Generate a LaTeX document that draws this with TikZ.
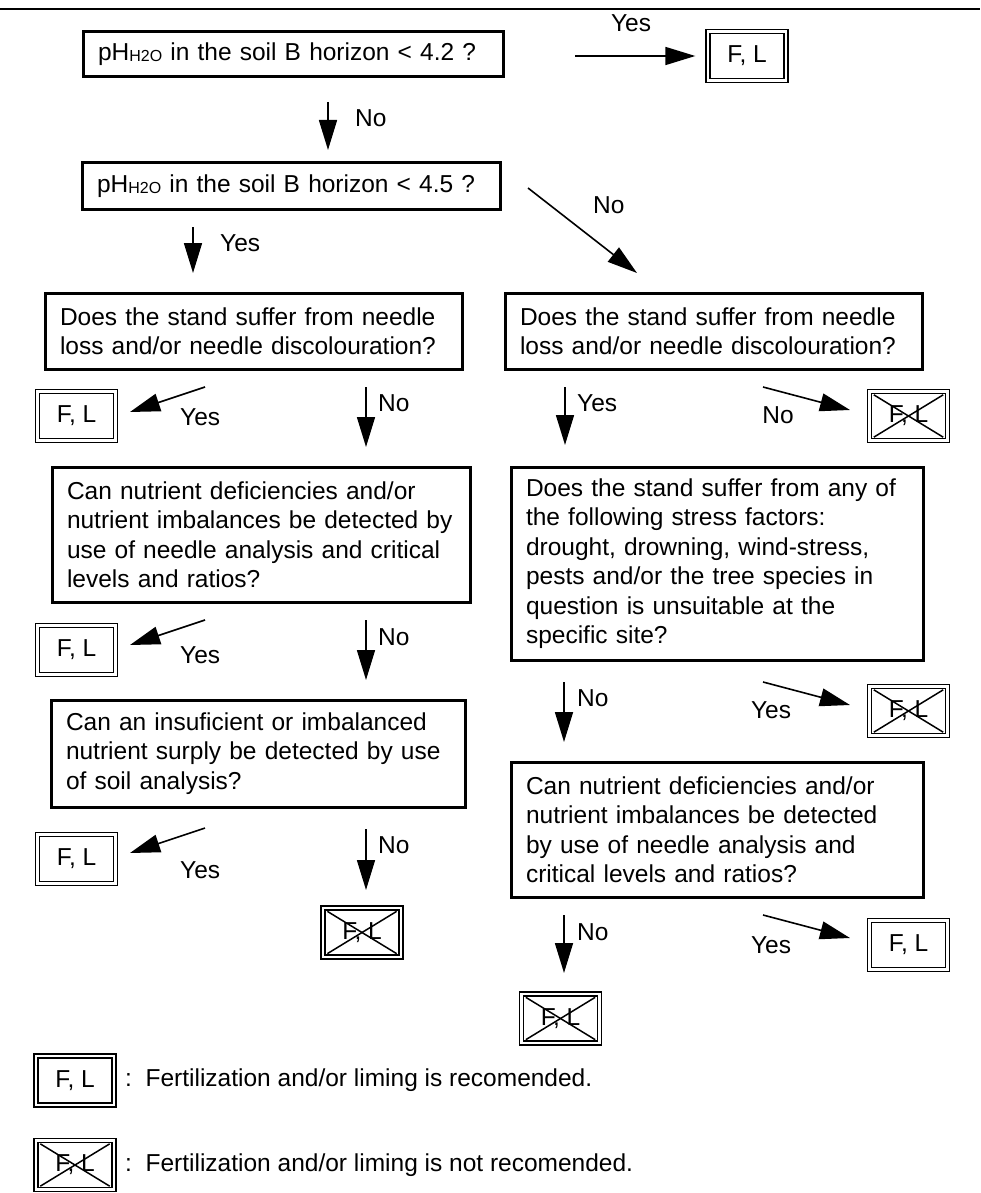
\documentclass[tikz,border=0pt]{standalone}
\usepackage{fontspec}
\setmainfont{Liberation Sans}
\usetikzlibrary{arrows.meta}
\newcommand{\phw}{pH{\fontsize{16}{16}\selectfont\raisebox{-1pt}{H2O}}}
\begin{document}
\begin{tikzpicture}[x=1pt,y=-1pt,
  q/.style={draw, line width=3pt, align=left, inner xsep=15pt, inner ysep=0pt,
    font=\fontsize{24.5}{29.5}\selectfont},
  res/.style={draw, double, double distance=2.5pt, line width=1.3pt,
    minimum width=78pt, minimum height=49pt, inner sep=0pt,
    font=\fontsize{24.5}{29.5}\selectfont},
  xline/.style={draw, line width=1.5pt},
  nres/.style={res, append after command={
    ([shift={(5pt,-4pt)}]\tikzlastnode.north west) edge[xline] ([shift={(-5pt,4pt)}]\tikzlastnode.south east)
    ([shift={(5pt,4pt)}]\tikzlastnode.south west) edge[xline] ([shift={(-5pt,-4pt)}]\tikzlastnode.north east)}},
  lbl/.style={inner sep=0pt, font=\fontsize{24.5}{29.5}\selectfont},
  arr/.style={line width=1.6pt, -{Triangle[length=30pt,width=18pt]}},
  rule/.style={line width=2.5pt}
]
\useasboundingbox (0,0) rectangle (980,1193);
\draw[rule] (0,9) -- (980,9);

% top questions
\node[q, text width=390pt, minimum height=45pt] (b1) at (293,54.5) {\phw\ in the soil B horizon < 4.2 ?};
\node[res] (fl0) at (747,56) {F, L};
\coordinate (a0s) at (575,56); \coordinate (a0e) at (fl0.west);
\draw[arr] (a0s) -- ([xshift=-12pt]a0e);
\node[lbl] (y0) at (631,23) {Yes};

\node[q, text width=388pt, minimum height=46pt] (b2) at (291,186) {\phw\ in the soil B horizon < 4.5 ?};
\coordinate (a1s) at (328,102); \coordinate (a1e) at (328,150);
\draw[arr] (a1s) -- (a1e);
\node[lbl, anchor=west] (n1) at (355,118) {No};

\coordinate (a2s) at (193,227); \coordinate (a2e) at (193,273);
\draw[arr] (a2s) -- (a2e);
\node[lbl, anchor=west] (y2) at (220,243) {Yes};

\coordinate (a3s) at (528,188); \coordinate (a3e) at (637,273);
\draw[arr] (a3s) -- (a3e);
\node[lbl, anchor=west] (n3) at (593,205) {No};

% left column
\node[q, text width=387pt, minimum height=76pt] (b3l) at (253.5,331)
  {Does the stand suffer from needle\\loss and/or needle discolouration?};
\node[q, text width=387pt, minimum height=76pt] (b3r) at (713.5,331)
  {Does the stand suffer from needle\\loss and/or needle discolouration?};

\node[res] (fl1) at (76.5,416) {F, L};
\coordinate (a4s) at (205,387); \coordinate (a4e) at (130,412);
\draw[arr] (a4s) -- (a4e);
\node[lbl, anchor=west] (y4) at (180,417) {Yes};
\coordinate (a5s) at (366,387); \coordinate (a5e) at (366,447);
\draw[arr] (a5s) -- (a5e);
\node[lbl, anchor=west] (n5) at (378,403) {No};

\node[q, text width=388pt, minimum height=135pt] (b4l) at (261,534.5)
  {Can nutrient deficiencies and/or\\nutrient imbalances be detected by\\use of needle analysis and critical\\levels and ratios?};

\node[res] (fl2) at (76.5,650) {F, L};
\coordinate (a6s) at (205,620); \coordinate (a6e) at (130,645);
\draw[arr] (a6s) -- (a6e);
\node[lbl, anchor=west] (y6) at (180,655) {Yes};
\coordinate (a7s) at (366,620); \coordinate (a7e) at (366,680);
\draw[arr] (a7s) -- (a7e);
\node[lbl, anchor=west] (n7) at (378,637) {No};

\node[q, text width=384pt, minimum height=107pt] (b5l) at (258,753.5)
  {Can an insuficient or imbalanced\\nutrient surply be detected by use\\of soil analysis?};

\node[res] (fl3) at (76.5,859) {F, L};
\coordinate (a8s) at (205,828); \coordinate (a8e) at (130,853);
\draw[arr] (a8s) -- (a8e);
\node[lbl, anchor=west] (y8) at (180,870) {Yes};
\coordinate (a9s) at (366,829); \coordinate (a9e) at (366,890);
\draw[arr] (a9s) -- (a9e);
\node[lbl, anchor=west] (n9) at (378,845) {No};
\node[nres] (cx0) at (362,932.5) {F, L};

% right column
\coordinate (a10s) at (565,387); \coordinate (a10e) at (565,445);
\draw[arr] (a10s) -- (a10e);
\node[lbl, anchor=west] (y10) at (577,403) {Yes};
\coordinate (a11s) at (763,387); \coordinate (a11e) at (850,410);
\draw[arr] (a11s) -- (a11e);
\node[lbl] (n11) at (778,415) {No};
\node[nres] (cx1) at (908.5,416) {F, L};

\node[q, text width=382pt, minimum height=193pt] (b4r) at (717,563.5)
  {Does the stand suffer from any of\\the following stress factors:\\drought, drowning, wind-stress,\\pests and/or the tree species in\\question is unsuitable at the\\specific site?};

\coordinate (a12s) at (564,682); \coordinate (a12e) at (564,742);
\draw[arr] (a12s) -- (a12e);
\node[lbl, anchor=west] (n12) at (577,698) {No};
\coordinate (a13s) at (763,682); \coordinate (a13e) at (850,705);
\draw[arr] (a13s) -- (a13e);
\node[lbl] (y13) at (771,710) {Yes};
\node[nres] (cx2) at (908.5,711) {F, L};

\node[q, text width=382pt, minimum height=135pt] (b5r) at (717,829.5)
  {Can nutrient deficiencies and/or\\nutrient imbalances be detected\\by use of needle analysis and\\critical levels and ratios?};

\coordinate (a14s) at (564,915); \coordinate (a14e) at (564,973);
\draw[arr] (a14s) -- (a14e);
\node[lbl, anchor=west] (n14) at (577,932) {No};
\coordinate (a15s) at (763,915); \coordinate (a15e) at (850,938);
\draw[arr] (a15s) -- (a15e);
\node[lbl] (y15) at (771,945) {Yes};
\node[res] (fl4) at (908.5,945) {F, L};
\node[nres] (cx3) at (560.5,1018.5) {F, L};

% legend
\node[res] (lg1) at (75,1080.5) {F, L};
\node[lbl, anchor=west] (lt1) at (125,1080.5) {:\ \ Fertilization and/or liming is recomended.};
\node[nres] (lg2) at (75,1165) {F, L};
\node[lbl, anchor=west] (lt2) at (125,1165) {:\ \ Fertilization and/or liming is not recomended.};
\end{tikzpicture}
\end{document}
